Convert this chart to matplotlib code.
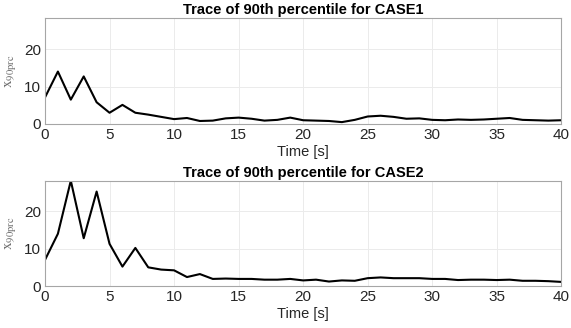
import matplotlib
matplotlib.use('Agg')
import matplotlib.pyplot as plt
import numpy as np

# time axis (s) and 90th percentile traces
time_s = list(range(0, 41))
case1 = [7.1, 14.0, 6.5, 12.7, 5.8, 3.0, 5.1, 3.0, 2.5, 1.9,
         1.3, 1.6, 0.8, 0.9, 1.5, 1.7, 1.4, 0.9, 1.1, 1.7,
         1.0, 0.9, 0.8, 0.5, 1.1, 2.0, 2.2, 1.9, 1.4, 1.5,
         1.1, 1.0, 1.2, 1.1, 1.2, 1.4, 1.6, 1.1, 1.0, 0.9, 1.0]
case2 = [7.0, 14.0, 28.2, 12.8, 25.3, 11.3, 5.2, 10.2, 5.0, 4.4,
         4.2, 2.4, 3.2, 1.9, 2.0, 1.9, 1.9, 1.7, 1.7, 1.9,
         1.5, 1.7, 1.2, 1.5, 1.4, 2.1, 2.3, 2.1, 2.1, 2.1,
         1.9, 1.9, 1.6, 1.7, 1.7, 1.6, 1.7, 1.4, 1.4, 1.3, 1.1]
case_names = ['CASE1', 'CASE2']
x_ticks = [0, 5, 10, 15, 20, 25, 30, 35, 40]
y_ticks = [0, 10, 20]

plt.rcParams['font.family'] = ['Liberation Sans', 'DejaVu Sans']
plt.rcParams['mathtext.fontset'] = 'stix'

fig = plt.figure(figsize=(5.71, 3.28), dpi=100)
ax1 = fig.add_axes([0.0788, 0.622, 0.9042, 0.322])
ax2 = fig.add_axes([0.0788, 0.128, 0.9042, 0.321])

ymax = max(max(case1), max(case2))
for ax, data, name in zip([ax1, ax2], [case1, case2], case_names):
    ax.plot(time_s, data, color='black', linewidth=1.5)
    ax.set_xlim(0, 40)
    ax.set_ylim(0, ymax)
    ax.set_xticks(x_ticks)
    ax.set_yticks(y_ticks)
    ax.grid(True, color='#ebebeb', linewidth=0.7)
    ax.set_axisbelow(True)
    for s in ax.spines.values():
        s.set_color('#a6a6a6')
        s.set_linewidth(0.8)
    ax.tick_params(length=0, labelsize=11, colors='#262626', pad=3)
    ax.set_title(f'Trace of 90th percentile for {name}', fontsize=10.5,
                 fontweight='bold', pad=3)
    ax.set_xlabel('Time [s]', fontsize=10.5, color='#262626')
    ax.xaxis.set_label_coords(0.5, -0.2)
    ax.set_ylabel(r'$\mathrm{x}_{\mathrm{90prc}}$', fontsize=11,
                  color='#707070')
    ax.yaxis.set_label_coords(-0.053, 0.5)

fig.savefig('out.png', dpi=100, facecolor='white')
